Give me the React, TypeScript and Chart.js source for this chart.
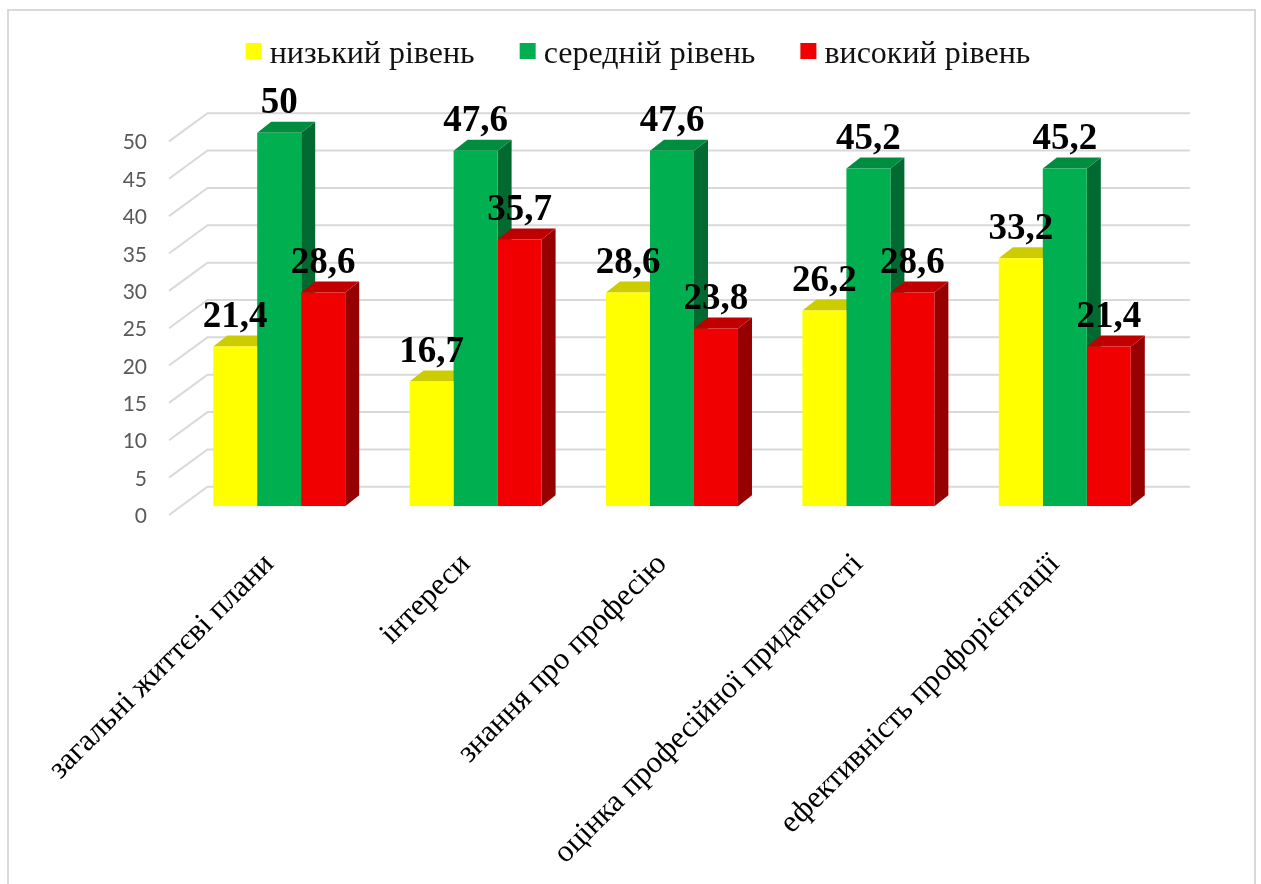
import React, { useEffect, useRef } from "react";
import { Chart, registerables } from "chart.js";

Chart.register(...registerables);

const categories = [
  "загальні життєві плани",
  "інтереси",
  "знання про професію",
  "оцінка професійної придатності",
  "ефективність профорієнтації",
];
const seriesNames = ["низький рівень", "середній рівень", "високий рівень"];
const lowValues = [21.4, 16.7, 28.6, 26.2, 33.2];
const midValues = [50, 47.6, 47.6, 45.2, 45.2];
const highValues = [28.6, 35.7, 23.8, 28.6, 21.4];
const frontColors = ["#FFFF00", "#00B050", "#F00000"];
const topColors = ["#CCCC00", "#008D40", "#C00000"];
const sideColors = ["#999900", "#006A30", "#960000"];

const SERIF = '"Liberation Serif", "Times New Roman", serif';
const DEPTH_X = 14;
const DEPTH_Y = 11;

const depthPlugin = {
  id: "depth",
  beforeInit(chart: any) {
    const legend = chart.legend;
    const fit = legend.fit;
    legend.fit = function () {
      fit.call(this);
      this.height = 132.7;
    };
  },
  afterLayout(chart: any) {
    chart.legend.top = -6;
  },
  beforeDatasetsDraw(chart: any) {
    const { ctx } = chart;
    const y = chart.scales.y;
    ctx.save();
    ctx.strokeStyle = "#D9D9D9";
    ctx.lineWidth = 2;
    y.ticks.forEach((t: any) => {
      const py = y.getPixelForValue(t.value);
      ctx.beginPath();
      ctx.moveTo(169, py + 8.7);
      ctx.lineTo(207.5, py - 19.5);
      ctx.lineTo(1190, py - 19.5);
      ctx.stroke();
    });
    chart.data.datasets.forEach((_: any, di: number) => {
      chart.getDatasetMeta(di).data.forEach((bar: any) => {
        const r = bar.x + bar.width / 2;
        const l = bar.x - bar.width / 2;
        const t = bar.y;
        const b = bar.base;
        ctx.fillStyle = sideColors[di];
        ctx.beginPath();
        ctx.moveTo(r, t);
        ctx.lineTo(r + DEPTH_X, t - DEPTH_Y);
        ctx.lineTo(r + DEPTH_X, b - DEPTH_Y);
        ctx.lineTo(r, b);
        ctx.closePath();
        ctx.fill();
        ctx.fillStyle = topColors[di];
        ctx.beginPath();
        ctx.moveTo(l, t);
        ctx.lineTo(l + DEPTH_X, t - DEPTH_Y);
        ctx.lineTo(r + DEPTH_X, t - DEPTH_Y);
        ctx.lineTo(r, t);
        ctx.closePath();
        ctx.fill();
      });
    });
    ctx.restore();
  },
  afterDatasetsDraw(chart: any) {
    const { ctx } = chart;
    ctx.save();
    ctx.font = `bold 37px ${SERIF}`;
    ctx.fillStyle = "#000000";
    ctx.textAlign = "center";
    ctx.textBaseline = "middle";
    chart.data.datasets.forEach((ds: any, di: number) => {
      chart.getDatasetMeta(di).data.forEach((bar: any, i: number) => {
        ctx.fillText(String(ds.data[i]).replace(".", ","), bar.x, bar.y - 29);
      });
    });
    ctx.restore();
  },
  afterDraw(chart: any) {
    const { ctx, legend } = chart;
    ctx.save();
    legend.legendHitBoxes.forEach((hit: any, i: number) => {
      ctx.fillStyle = frontColors[legend.legendItems[i].datasetIndex];
      ctx.fillRect(hit.left, 43, 16, 16);
    });
    ctx.restore();
  },
};

export default function App() {
  const ref = useRef<HTMLCanvasElement>(null);
  useEffect(() => {
    const values = [lowValues, midValues, highValues];
    const chart = new Chart(ref.current as HTMLCanvasElement, {
      type: "bar",
      data: {
        labels: categories,
        datasets: seriesNames.map((name, i) => ({
          label: name,
          data: values[i],
          yAxisID: "y",
          backgroundColor: frontColors[i],
          borderWidth: 0,
          categoryPercentage: 0.672,
          barPercentage: 1,
        })),
      },
      options: {
        responsive: false,
        animation: false,
        devicePixelRatio: 1,
        layout: { autoPadding: false, padding: { left: 15, top: 0, right: 0, bottom: 0 } },
        plugins: {
          tooltip: { enabled: false },
          title: { display: false },
          legend: {
            display: true,
            position: "top",
            labels: {
              color: "#111111",
              font: { family: SERIF, size: 32 },
              boxWidth: 8,
              padding: 45,
              generateLabels: (c: any) =>
                (Chart.defaults.plugins.legend.labels as any)
                  .generateLabels(c)
                  .map((it: any) => ({
                    ...it,
                    fillStyle: "rgba(0,0,0,0)",
                    strokeStyle: "rgba(0,0,0,0)",
                    lineWidth: 0,
                  })),
            },
          },
        },
        scales: {
          x: {
            grid: { display: false },
            border: { display: false },
            ticks: {
              autoSkip: false,
              minRotation: 45,
              maxRotation: 45,
              padding: 32,
              labelOffset: -10,
              color: "#000000",
              font: { family: SERIF, size: 31 },
            },
            afterFit: (s: any) => {
              s.height = 377.7;
            },
          },
          y: {
            min: 0,
            max: 50,
            grid: { display: false, drawTicks: false },
            border: { display: false },
            ticks: {
              stepSize: 5,
              padding: 34,
              labelOffset: 10,
              color: "#595959",
              font: { family: "Lato", size: 21 },
            },
            afterFit: (s: any) => {
              s.width = 166;
            },
          },
          right: {
            axis: "y",
            position: "right",
            display: true,
            grid: { display: false, drawTicks: false },
            border: { display: false },
            ticks: { display: false },
            afterFit: (s: any) => {
              s.width = 98;
            },
          },
        } as any,
      },
      plugins: [depthPlugin as any],
    });
    return () => chart.destroy();
  }, []);
  return (
    <div style={{ position: "absolute", left: 0, top: 0, width: 1261, height: 884, overflow: "hidden", background: "#fff" }}>
      <div
        style={{
          position: "absolute",
          left: 7,
          top: 9,
          width: 1245,
          height: 875,
          borderLeft: "2px solid #D9D9D9",
          borderTop: "2px solid #D9D9D9",
          borderRight: "2px solid #D9D9D9",
        }}
      />
      <canvas ref={ref} width={1261} height={884} style={{ position: "absolute", left: 0, top: 0, display: "block" }} />
    </div>
  );
}
